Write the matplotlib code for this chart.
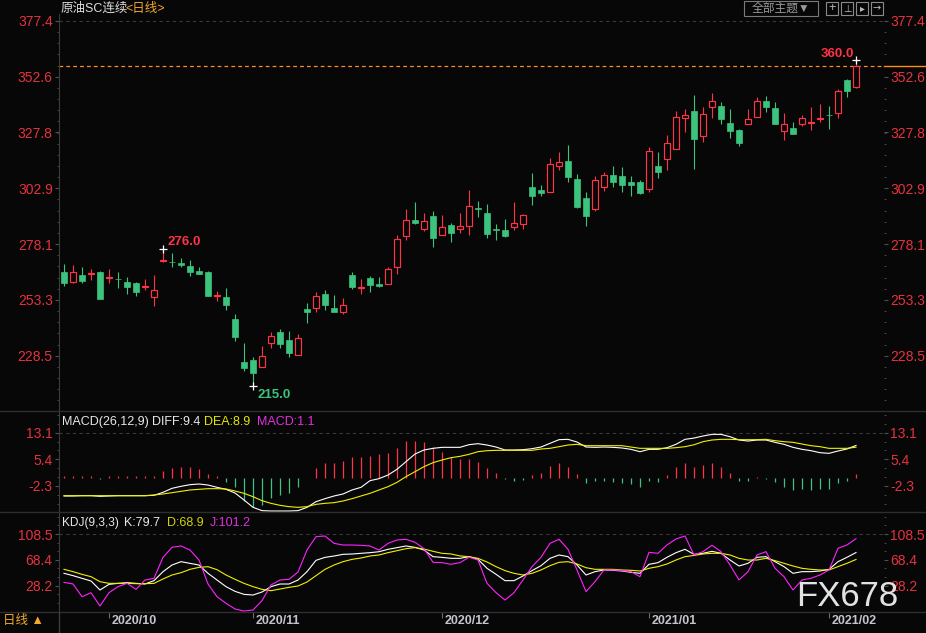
import numpy as np
import matplotlib
matplotlib.use('Agg')
import matplotlib.pyplot as plt
from matplotlib.patches import Rectangle
from matplotlib.lines import Line2D

plt.rcParams['font.family'] = ['Liberation Sans', 'Noto Sans CJK SC', 'DejaVu Sans']

# 日K数据 原油SC连续 (2020/09 - 2021/02), 每根K线: 开 高 低 收
opens = [265.7, 261.4, 264.4, 264.8, 265.7, 263.2, 262.7, 261.3, 260.9, 259.1,
         254.5, 270.5, 270.3, 269.9, 268.4, 266.2, 265.7, 255.2, 254.6, 244.9,
         225.8, 226.6, 223.4, 234.3, 239.1, 235.5, 229.0, 249.3, 249.5, 256.0,
         249.8, 247.8, 264.4, 258.6, 263.1, 260.4, 260.3, 267.8, 281.6, 288.9,
         284.7, 290.6, 282.3, 286.6, 284.6, 286.0, 294.0, 292.0, 284.5, 284.4,
         285.9, 287.2, 303.5, 302.2, 301.4, 313.0, 315.1, 307.1, 298.6, 293.9,
         303.7, 308.9, 308.3, 305.7, 305.7, 302.4, 312.8, 315.8, 320.2, 334.0,
         337.2, 326.0, 339.2, 339.4, 331.9, 328.8, 331.6, 334.7, 341.5, 338.6,
         328.6, 329.5, 331.6, 331.9, 333.8, 335.6, 336.2, 351.0, 348.1]
highs = [269.3, 268.8, 268.0, 267.1, 266.0, 267.1, 265.7, 263.5, 261.4, 262.6,
         264.4, 276.0, 274.2, 272.0, 271.1, 268.0, 266.2, 257.3, 258.6, 247.1,
         234.2, 228.1, 233.0, 239.1, 240.4, 239.5, 238.2, 252.0, 257.0, 257.8,
         255.5, 254.2, 265.8, 262.6, 264.0, 263.5, 267.8, 282.0, 293.7, 296.8,
         292.0, 292.9, 291.1, 287.5, 292.0, 302.2, 297.3, 296.0, 287.1, 289.3,
         296.9, 291.5, 309.7, 304.4, 316.4, 319.1, 322.3, 309.3, 301.3, 308.4,
         310.2, 312.8, 312.2, 308.3, 306.6, 321.2, 319.0, 326.6, 337.2, 338.1,
         344.3, 339.0, 345.2, 341.2, 338.1, 329.2, 338.1, 343.3, 343.9, 341.1,
         336.3, 332.3, 335.4, 339.0, 340.3, 339.4, 347.1, 351.5, 360.0]
lows = [259.5, 260.9, 261.0, 262.3, 253.9, 261.0, 258.8, 256.1, 255.2, 257.7,
        250.8, 270.0, 267.7, 268.1, 263.7, 264.6, 255.2, 253.0, 249.0, 235.2,
        221.9, 215.0, 223.4, 231.7, 232.1, 227.7, 229.0, 243.2, 247.7, 248.6,
        247.7, 247.2, 258.3, 256.1, 257.0, 259.2, 260.3, 264.6, 280.1, 287.2,
        283.8, 277.0, 282.3, 279.2, 283.2, 282.2, 290.3, 281.0, 280.0, 281.4,
        284.4, 285.0, 295.5, 299.5, 301.4, 311.1, 305.7, 294.2, 286.2, 292.9,
        301.7, 303.5, 301.4, 299.6, 300.5, 301.4, 307.6, 311.2, 320.2, 328.0,
        311.6, 323.5, 334.3, 331.6, 325.4, 321.8, 331.6, 334.7, 336.8, 331.6,
        324.5, 327.2, 330.4, 328.9, 332.5, 329.4, 334.3, 343.6, 347.4]
closes = [261.0, 265.6, 261.9, 265.0, 253.9, 263.6, 262.5, 259.2, 256.6, 259.4,
          257.6, 271.0, 270.0, 269.0, 265.9, 264.6, 255.2, 255.6, 251.2, 237.0,
          223.2, 220.6, 228.3, 237.2, 233.5, 229.9, 236.4, 247.7, 255.1, 251.1,
          247.7, 250.9, 259.2, 259.0, 260.1, 259.5, 266.9, 280.3, 288.7, 287.7,
          288.4, 281.0, 285.6, 283.2, 286.0, 294.9, 293.8, 282.8, 284.3, 281.7,
          287.4, 291.1, 299.7, 300.9, 313.7, 314.6, 308.1, 294.6, 290.6, 306.6,
          308.9, 305.7, 304.5, 304.5, 300.9, 319.5, 310.3, 323.0, 334.6, 335.4,
          324.9, 335.9, 341.5, 333.8, 328.5, 323.2, 333.5, 341.5, 339.2, 331.6,
          331.3, 327.2, 334.0, 332.3, 334.2, 335.4, 346.2, 346.3, 357.1]

# MACD(26,12,9)
diff = [-5.24, -5.24, -5.15, -5.15, -5.34, -5.24, -5.15, -5.15, -5.15, -5.15,
        -5.05, -4.18, -3.02, -2.44, -1.96, -1.77, -2.06, -2.73, -3.31, -4.37,
        -6.40, -8.53, -9.49, -9.59, -9.59, -9.59, -9.49, -8.53, -6.89, -6.02,
        -5.24, -4.66, -3.50, -2.73, -0.80, -0.22, 0.84, 2.49, 4.71, 6.93,
        8.09, 8.57, 8.86, 8.86, 8.86, 9.63, 9.92, 9.53, 8.95, 8.09,
        8.09, 8.18, 8.47, 8.95, 10.02, 11.08, 11.18, 10.40, 8.95, 8.86,
        8.95, 8.86, 8.67, 8.28, 7.60, 8.28, 8.28, 8.76, 9.73, 11.18,
        11.55, 12.14, 12.62, 12.62, 11.95, 10.98, 10.69, 10.98, 10.98, 10.31,
        9.73, 8.86, 8.28, 7.89, 7.31, 7.12, 7.80, 8.38, 9.40]
dea = [-5.15, -5.15, -5.15, -5.15, -5.15, -5.15, -5.15, -5.15, -5.15, -5.15,
       -4.95, -4.66, -4.28, -3.89, -3.50, -3.31, -3.12, -3.12, -3.21, -3.79,
       -4.47, -5.44, -6.60, -7.37, -7.95, -8.33, -8.53, -8.33, -7.66, -7.37,
       -7.17, -6.69, -6.02, -5.24, -4.47, -3.50, -2.54, -1.28, 0.36, 1.81,
       3.26, 4.42, 5.19, 5.86, 6.25, 6.83, 7.60, 7.89, 7.99, 7.99,
       7.99, 7.99, 7.99, 8.38, 8.57, 9.05, 9.53, 9.73, 9.34, 9.34,
       9.34, 9.34, 9.34, 8.95, 8.57, 8.57, 8.57, 8.57, 8.76, 9.05,
       9.60, 10.50, 10.98, 11.18, 11.18, 11.08, 11.08, 11.08, 11.18, 10.79,
       10.50, 10.31, 9.82, 9.34, 9.05, 8.57, 8.57, 8.57, 8.90]
macd_bar = [0.6, 0.6, 0.6, 0.6, -0.4, 0.6, 0.6, 0.6, 0.6, 0.6,
            0.6, 2.1, 3.0, 3.3, 3.3, 2.7, 1.2, 0.6, -1.1, -2.7,
            -6.6, -8.3, -7.8, -5.9, -4.9, -4.3, -2.7, 0.1, 2.8, 4.3,
            4.4, 5.0, 6.2, 6.2, 6.4, 7.0, 7.1, 8.8, 10.7, 10.7,
            10.5, 8.9, 7.6, 6.1, 5.4, 5.4, 4.7, 2.8, 1.3, -0.2,
            -0.8, -0.5, 0.7, 1.5, 3.4, 4.2, 3.3, 1.0, -1.6, -1.0,
            -0.8, -1.1, -1.4, -1.9, -2.5, -0.8, -1.1, 0.8, 3.1, 4.2,
            3.1, 3.6, 4.2, 3.1, 1.3, -1.0, -1.0, 0.2, -0.2, -1.3,
            -2.5, -3.5, -3.3, -3.5, -3.3, -3.3, -1.5, -0.8, 1.1]

# KDJ(9,3,3)
k_line = [47.4, 43.8, 39.6, 35.5, 21.5, 30.3, 31.8, 32.9, 31.8, 30.8,
          36.0, 50.0, 60.3, 65.5, 62.9, 60.3, 47.4, 37.0, 26.7, 19.4,
          14.7, 13.7, 18.4, 26.7, 30.8, 30.8, 37.0, 50.0, 67.6, 72.2,
          74.3, 76.9, 77.4, 78.5, 79.5, 81.0, 84.7, 87.3, 89.9, 87.8,
          83.6, 73.3, 72.2, 70.7, 70.7, 73.3, 69.2, 55.2, 45.9, 36.0,
          36.0, 43.3, 51.6, 59.3, 70.7, 75.9, 73.3, 60.4, 44.8, 50.0,
          52.6, 52.1, 51.0, 49.0, 47.4, 61.4, 64.0, 72.3, 79.5, 84.7,
          76.9, 78.5, 81.6, 78.5, 68.1, 58.8, 63.0, 72.3, 73.3, 65.5,
          57.8, 47.4, 50.0, 50.0, 51.0, 53.6, 65.5, 72.3, 79.7]
d_line = [53.6, 50.0, 45.8, 42.2, 34.4, 31.8, 31.8, 31.8, 31.3, 31.3,
          31.8, 38.6, 44.8, 48.4, 53.6, 56.7, 57.7, 53.1, 44.8, 38.1,
          31.8, 26.7, 22.5, 20.4, 23.0, 25.6, 27.7, 33.9, 43.8, 53.6,
          60.3, 65.5, 69.1, 71.2, 74.3, 75.9, 79.5, 82.6, 85.7, 87.3,
          85.2, 81.6, 78.5, 77.5, 74.4, 73.3, 70.7, 65.0, 57.8, 51.6,
          47.4, 44.8, 47.4, 52.6, 59.3, 64.5, 65.5, 61.9, 56.2, 53.6,
          53.6, 53.6, 52.6, 52.1, 51.0, 55.2, 57.8, 61.9, 68.1, 73.3,
          75.2, 77.5, 78.5, 78.5, 75.9, 70.7, 68.1, 68.1, 70.7, 67.1,
          63.0, 58.8, 55.2, 53.6, 52.6, 52.6, 57.8, 63.0, 68.9]
j_line = [33.4, 30.8, 11.1, 17.3, -3.4, 17.3, 26.7, 31.8, 22.5, 37.0,
          39.6, 72.2, 87.8, 89.9, 83.6, 68.1, 30.8, 11.1, 0.8, -8.0,
          -11.2, -9.6, 4.9, 29.3, 37.0, 38.1, 49.5, 83.6, 104.4, 105.4,
          94.0, 91.4, 91.4, 90.9, 89.9, 83.6, 94.0, 99.2, 100.2, 95.6,
          85.7, 64.5, 64.0, 61.4, 64.0, 72.3, 68.1, 31.9, 17.4, 5.9,
          17.4, 37.1, 57.8, 72.3, 94.0, 100.3, 84.7, 52.6, 19.0, 34.5,
          52.6, 52.6, 51.6, 50.0, 42.2, 80.1, 78.5, 91.5, 100.8, 105.4,
          75.9, 81.1, 90.9, 81.1, 60.4, 37.1, 50.0, 75.9, 81.1, 55.2,
          42.2, 21.5, 37.1, 39.7, 44.8, 52.6, 86.3, 91.5, 101.2]

price_ticks = [228.5, 253.3, 278.1, 302.9, 327.8, 352.6, 377.4]
macd_ticks = [13.1, 5.4, -2.3]
kdj_ticks = [108.5, 68.4, 28.2]
date_pos = [5, 21, 42, 65, 85]
date_labels = ['2020/10', '2020/11', '2020/12', '2021/01', '2021/02']

W, H = 926, 633
BG = '#070707'
RED = '#ff3346'
GREEN = '#3cc47e'
AXRED = '#e5323e'
GRID = '#3a3a3a'
ORANGE = '#ff8c1a'


def fx(x):
    return x / W


def fy(y):
    return 1 - y / H


fig = plt.figure(figsize=(W / 100, H / 100), dpi=100, facecolor=BG)


def panel(y0, y1, ylim, ticks, minor_step):
    ax = fig.add_axes([fx(59), fy(y1), fx(884) - fx(59), (y1 - y0) / H])
    ax.set_facecolor(BG)
    ax.set_xticks([])
    ax.set_yticks(ticks)
    ax.set_yticklabels([f'{t:.1f}' for t in ticks])
    lo = min(ticks) - minor_step * 12
    minors = np.arange(lo, ylim[1], minor_step)
    ax.set_yticks(minors[minors > ylim[0]], minor=True)
    # 先设刻度再设范围, 否则范围会被刻度撑开
    ax.set_xlim(-0.556, 91.11)
    ax.set_ylim(*ylim)
    ax.tick_params(axis='y', which='both', left=True, right=True,
                   labelleft=True, labelright=True, labelcolor=AXRED,
                   color='#505050', labelsize=10, pad=1.5)
    ax.tick_params(axis='y', which='major', length=3)
    ax.tick_params(axis='y', which='minor', length=1.5)
    for s in ['top', 'bottom', 'right']:
        ax.spines[s].set_visible(False)
    ax.spines['left'].set_color('#3c3c3c')
    ax.axhline(max(ticks), color=GRID, lw=0.8, ls=(0, (3, 3)), zorder=1)
    return ax


n = len(closes)
idx = np.arange(n)

# 主图 K线
ax = panel(14, 411, (203.9, 380.4), price_ticks, 24.8 / 5)
for i in range(n):
    o, h, l, c = opens[i], highs[i], lows[i], closes[i]
    col = RED if c >= o else GREEN
    ax.vlines(i, l, h, color=col, lw=0.8, zorder=2)
    bot = min(o, c)
    hgt = max(abs(c - o), 0.3)
    if c >= o:
        ax.add_patch(Rectangle((i - 0.36, bot), 0.72, hgt, facecolor=BG,
                               edgecolor=col, lw=0.85, zorder=3))
    else:
        ax.add_patch(Rectangle((i - 0.36, bot), 0.72, hgt, facecolor=col,
                               edgecolor=col, lw=0.5, zorder=3))

ax.axhline(closes[-1], color=ORANGE, lw=0.9, ls=(0, (3, 2.5)), zorder=1)

i_hi = int(np.argmax(highs[:20]))
i_lo = int(np.argmin(lows))
i_top = int(np.argmax(highs))
for j, v in [(i_hi, highs[i_hi]), (i_lo, lows[i_lo]), (i_top, highs[i_top])]:
    ax.plot(j, v, marker='+', color='white', ms=6, mew=0.9, zorder=5)
ax.annotate(f'{highs[i_hi]:.1f}', (i_hi, highs[i_hi]), xytext=(3.5, 5),
            textcoords='offset points', color=RED, fontsize=9.5,
            fontweight='bold', va='center', ha='left')
ax.annotate(f'{lows[i_lo]:.1f}', (i_lo, lows[i_lo]), xytext=(3.5, -6.5),
            textcoords='offset points', color=GREEN, fontsize=9.5,
            fontweight='bold', va='center', ha='left')
ax.annotate(f'{highs[i_top]:.1f}', (i_top, highs[i_top]), xytext=(-1.5, 4.5),
            textcoords='offset points', color=RED, fontsize=9.5,
            fontweight='bold', va='center', ha='right')

# MACD
ax2 = panel(411, 512, (-9.88, 19.39), macd_ticks, 7.7 / 3)
bar_cols = [RED if v >= 0 else GREEN for v in macd_bar]
ax2.vlines(idx, 0, macd_bar, colors=bar_cols, lw=0.9, zorder=2)
ax2.plot(idx, diff, color='white', lw=0.8, zorder=3)
ax2.plot(idx, dea, color='#f0f000', lw=0.8, zorder=3)

# KDJ
ax3 = panel(512, 612, (-12.7, 142.7), kdj_ticks, 40.2 / 3)
ax3.plot(idx, k_line, color='white', lw=0.8, zorder=3)
ax3.plot(idx, d_line, color='#f0f000', lw=0.8, zorder=3)
ax3.plot(idx, j_line, color='#ff22ff', lw=0.8, zorder=3)

# 日期轴
ax4 = fig.add_axes([fx(59), fy(633), fx(884) - fx(59), 21 / H])
ax4.set_facecolor(BG)
ax4.set_xlim(-0.556, 91.11)
ax4.set_ylim(0, 21)
ax4.axis('off')
ax4.vlines(date_pos, 15, 21, color='#6a6a6a', lw=0.8)
for p, lab in zip(date_pos, date_labels):
    ax4.text(p + 0.25, 11.5, lab, color='#c4c4cc', fontsize=9,
             fontweight='bold', va='center', ha='left')

# 分隔线
for yy in [411, 512, 612]:
    fig.add_artist(Line2D([0, 1], [fy(yy)] * 2, color='#2e2e2e', lw=1))
fig.add_artist(Line2D([fx(59)] * 2, [fy(612), fy(633)], color='#3c3c3c', lw=1))
fig.add_artist(Line2D([fx(884), 1], [fy(66)] * 2, color=ORANGE, lw=1))

# 标题与图例
fig.text(fx(61), fy(9), '原油SC连续', color='#dcdcdc', fontsize=9, va='center')
fig.text(fx(125), fy(9), '<日线>', color='#f0a830', fontsize=9, va='center')

fig.text(fx(62), fy(422), 'MACD(26,12,9)', color='#e8e8e8', fontsize=9, va='center')
fig.text(fx(152), fy(422), f'DIFF:{diff[-1]:.1f}', color='#e8e8e8', fontsize=9, va='center')
fig.text(fx(204), fy(422), f'DEA:{dea[-1]:.1f}', color='#e6e600', fontsize=9, va='center')
fig.text(fx(257), fy(422), f'MACD:{macd_bar[-1]:.1f}', color='#e030e0', fontsize=9, va='center')

fig.text(fx(62), fy(523), 'KDJ(9,3,3)', color='#e8e8e8', fontsize=8.6, va='center')
fig.text(fx(124), fy(523), f'K:{k_line[-1]:.1f}', color='#e8e8e8', fontsize=9, va='center')
fig.text(fx(167), fy(523), f'D:{d_line[-1]:.1f}', color='#d0d400', fontsize=9, va='center')
fig.text(fx(210), fy(523), f'J:{j_line[-1]:.1f}', color='#e030e0', fontsize=9, va='center')

fig.text(fx(3), fy(621), '日线 ▲', color='#f0a830', fontsize=9, va='center')

# 右上角按钮
fig.add_artist(Rectangle((fx(744), fy(16)), 74 / W, 15 / H, transform=fig.transFigure,
                         fill=False, edgecolor='#7a7a7a', lw=0.8))
fig.text(fx(781), fy(8.5), '全部主题▼', color='#9a9a9a', fontsize=8.5,
         va='center', ha='center')
for bx in [826, 841, 856, 871]:
    fig.add_artist(Rectangle((fx(bx), fy(15)), 12 / W, 13 / H, transform=fig.transFigure,
                             fill=False, edgecolor='#8a8a8a', lw=0.8))
fig.text(fx(832), fy(8.5), '+', color='#bbbbbb', fontsize=9, va='center', ha='center')
fig.text(fx(847), fy(8.5), '⊥', color='#bbbbbb', fontsize=7, va='center', ha='center',
         family='DejaVu Sans')
fig.text(fx(862), fy(8.5), '▸', color='#bbbbbb', fontsize=7, va='center', ha='center',
         family='DejaVu Sans')
fig.text(fx(877), fy(8.5), '→', color='#bbbbbb', fontsize=7, va='center', ha='center',
         family='DejaVu Sans')

# 水印 (原图中同样压在 28.2 刻度上)
fig.text(fx(847), fy(596), 'FX678', color='#e2e2e2', fontsize=25,
         va='center', ha='center', zorder=10)

fig.savefig('out.png', dpi=100, facecolor=BG)
